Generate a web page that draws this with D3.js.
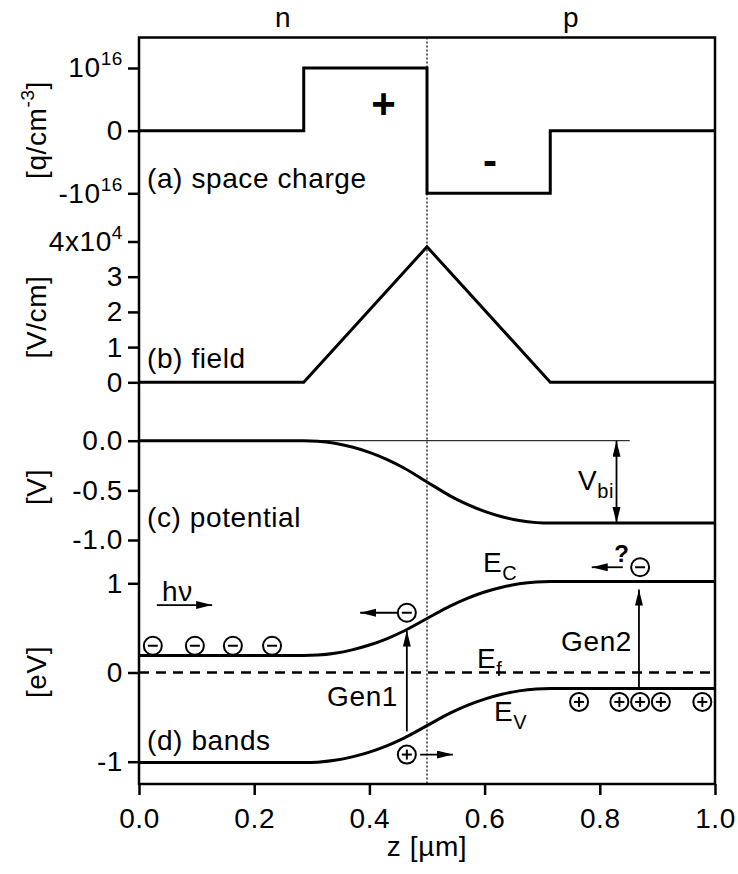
<!DOCTYPE html>
<html>
<head>
<meta charset="utf-8">
<script src="https://cdn.jsdelivr.net/npm/d3@7"></script>
<style>
  body { margin: 0; background: #fff; }
  text { font-family: "Liberation Sans", Arial, sans-serif; fill: #000; letter-spacing: 0.6px; }
</style>
</head>
<body>
<script>
// depth axis shared by all four panels [um]
var zTicks = [0, 0.2, 0.4, 0.6, 0.8, 1.0];

// (a) space charge, units of 1e16 q/cm^3
var chargeZ = [0, 0.286, 0.5, 0.714, 1.0];
var chargeRho = [0, 1, -1, 0, 0];
var chargeTicks = [-1, 0, 1];
var chargeTickLabels = [["-10", "16"], ["0", ""], ["10", "16"]];

// (b) field, units of 1e4 V/cm
var fieldZ = [0, 0.286, 0.5, 0.714, 1.0];
var fieldE = [0, 0, 3.85, 0, 0];
var fieldTicks = [0, 1, 2, 3, 4];
var fieldTickLabels = [["0", ""], ["1", ""], ["2", ""], ["3", ""], ["4x10", "4"]];

// (c) potential [V] and (d) bands [eV]
var bandZ = [0, 0.286, 0.31, 0.34, 0.37, 0.40, 0.43, 0.46, 0.5, 0.54, 0.57, 0.60, 0.63, 0.66, 0.69, 0.714, 1.0];
var potV = [0, 0, -0.005, -0.026, -0.064, -0.118, -0.188, -0.275, -0.415, -0.555, -0.642, -0.712, -0.766, -0.804, -0.825, -0.83, -0.83];
var bandEc = [0.19, 0.19, 0.195, 0.216, 0.254, 0.308, 0.378, 0.465, 0.605, 0.745, 0.832, 0.902, 0.956, 0.994, 1.015, 1.02, 1.02];
var bandEv = [-1.01, -1.01, -1.005, -0.984, -0.946, -0.892, -0.822, -0.735, -0.595, -0.455, -0.368, -0.298, -0.244, -0.206, -0.185, -0.18, -0.18];
var potTicks = [-1, -0.5, 0];
var potTickLabels = [["-1.0", ""], ["-0.5", ""], ["0.0", ""]];
var bandTicks = [-1, 0, 1];
var bandTickLabels = [["-1", ""], ["0", ""], ["1", ""]];

// carriers drawn on the band diagram
var electronZ = [0.024, 0.097, 0.163, 0.231, 0.465, 0.870];
var electronE = [0.30, 0.30, 0.30, 0.30, 0.67, 1.18];
var holeZ = [0.465, 0.764, 0.834, 0.870, 0.906, 0.978];
var holeE = [-0.92, -0.33, -0.33, -0.33, -0.33, -0.33];

var svg = d3.select("body").append("svg")
    .attr("width", 738)
    .attr("height", 874);

var x = d3.scaleLinear().domain([0, 1]).range([139, 715]);
var yA = d3.scaleLinear().domain([-1, 1]).range([193.3, 68]);
var yB = d3.scaleLinear().domain([0, 4]).range([382.3, 241.5]);
var yC = d3.scaleLinear().domain([-1, 0]).range([540, 440.7]);
var yD = d3.scaleLinear().domain([-1, 1]).range([761.7, 583.3]);

var frameTop = 37.5, frameBottom = 784;
var fs = 28;

// arrow head
svg.append("defs").append("marker")
    .attr("id", "head")
    .attr("markerUnits", "userSpaceOnUse")
    .attr("markerWidth", 18).attr("markerHeight", 10)
    .attr("refX", 16).attr("refY", 4)
    .attr("orient", "auto-start-reverse")
  .append("path")
    .attr("d", "M0,0 L16,4 L0,8 Z")
    .attr("fill", "#000");

// frame
svg.append("rect")
    .attr("x", x(0)).attr("y", frameTop)
    .attr("width", x(1) - x(0)).attr("height", frameBottom - frameTop)
    .attr("fill", "none").attr("stroke", "#000").attr("stroke-width", 2.5);

// junction
svg.append("line")
    .attr("x1", x(0.5)).attr("x2", x(0.5))
    .attr("y1", frameTop).attr("y2", frameBottom)
    .attr("stroke", "#000").attr("stroke-width", 1.2)
    .attr("stroke-dasharray", "2,2");

function yAxis(scale, ticks, labels) {
    var g = svg.append("g")
        .attr("transform", "translate(" + x(0) + ",0)")
        .call(d3.axisLeft(scale).tickValues(ticks).tickSize(11).tickPadding(5).tickFormat(""));
    g.select(".domain").remove();
    g.selectAll(".tick line").attr("stroke-width", 2.5);
    g.selectAll(".tick text").each(function(d, i) {
        var t = d3.select(this)
            .attr("font-size", fs).attr("font-family", null);
        t.append("tspan").text(labels[i][0]);
        if (labels[i][1]) {
            t.append("tspan").attr("dy", -12).attr("font-size", 19).text(labels[i][1]);
        }
    });
}
yAxis(yA, chargeTicks, chargeTickLabels);
yAxis(yB, fieldTicks, fieldTickLabels);
yAxis(yC, potTicks, potTickLabels);
yAxis(yD, bandTicks, bandTickLabels);

var xg = svg.append("g")
    .attr("transform", "translate(0," + frameBottom + ")")
    .call(d3.axisBottom(x).tickValues(zTicks).tickSize(11).tickPadding(13).tickFormat(d3.format(".1f")));
xg.select(".domain").remove();
xg.selectAll(".tick line").attr("stroke-width", 2.5);
xg.selectAll(".tick text").attr("font-size", fs).attr("font-family", null);

svg.append("text")
    .attr("x", x(0.5)).attr("y", 856)
    .attr("text-anchor", "middle").attr("font-size", fs)
    .text("z [\u00b5m]");

// axis titles
function yTitle(cy, parts) {
    var t = svg.append("text")
        .attr("transform", "translate(46," + cy + ") rotate(-90)")
        .attr("text-anchor", "middle").attr("font-size", fs);
    parts.forEach(function(p) {
        var s = t.append("tspan").text(p[0]);
        if (p[1]) s.attr("dy", p[1]);
        if (p[2]) s.attr("font-size", p[2]);
    });
}
yTitle(130, [["[q/cm"], ["-3", -12, 19], ["]", 12]]);
yTitle(317, [["[V/cm]"]]);
yTitle(487, [["[V]"]]);
yTitle(672, [["[eV]"]]);

svg.append("text").attr("x", x(0.25)).attr("y", 27)
    .attr("text-anchor", "middle").attr("font-size", fs).text("n");
svg.append("text").attr("x", x(0.75)).attr("y", 27)
    .attr("text-anchor", "middle").attr("font-size", fs).text("p");

// curves
function curve(zs, vs, scale, c) {
    return svg.append("path")
        .attr("d", d3.line()
            .x(function(d, i) { return x(zs[i]); })
            .y(function(d, i) { return scale(vs[i]); })
            .curve(c)(zs))
        .attr("fill", "none").attr("stroke", "#000").attr("stroke-width", 3);
}
curve(chargeZ, chargeRho, yA, d3.curveStepAfter);
curve(fieldZ, fieldE, yB, d3.curveLinear);

svg.append("line")
    .attr("x1", x(0)).attr("x2", x(0.852))
    .attr("y1", yC(0)).attr("y2", yC(0))
    .attr("stroke", "#000").attr("stroke-width", 1);
curve(bandZ, potV, yC, d3.curveMonotoneX);
curve(bandZ, bandEc, yD, d3.curveMonotoneX);
curve(bandZ, bandEv, yD, d3.curveMonotoneX);

svg.append("line")
    .attr("x1", x(0)).attr("x2", x(1))
    .attr("y1", yD(0)).attr("y2", yD(0))
    .attr("stroke", "#000").attr("stroke-width", 2.5)
    .attr("stroke-dasharray", "10,7");

// panel labels
function label(px, py, str, size, anchor, weight) {
    return svg.append("text")
        .attr("x", px).attr("y", py)
        .attr("font-size", size || fs)
        .attr("text-anchor", anchor || "start")
        .attr("font-weight", weight || null)
        .text(str);
}
label(147, 188, "(a) space charge");
label(147, 368, "(b) field");
label(147, 527, "(c) potential");
label(147, 750, "(d) bands");

label(x(0.425), yA(0.43) + 14, "+", 42, "middle", "bold");
label(x(0.61), yA(-0.51) + 12, "-", 42, "middle", "bold");

// arrows
function arrow(z1, v1, z2, v2, scale, both) {
    var l = svg.append("line")
        .attr("x1", x(z1)).attr("y1", scale(v1))
        .attr("x2", x(z2)).attr("y2", scale(v2))
        .attr("stroke", "#000").attr("stroke-width", 1.8)
        .attr("marker-end", "url(#head)");
    if (both) l.attr("marker-start", "url(#head)");
}
arrow(0.829, 0, 0.829, -0.83, yC, true);
arrow(0.031, 0.756, 0.127, 0.756, yD);
arrow(0.448, 0.67, 0.384, 0.67, yD);
arrow(0.488, -0.92, 0.545, -0.92, yD);
arrow(0.840, 1.18, 0.786, 1.18, yD);
arrow(0.465, -0.66, 0.465, 0.47, yD);
arrow(0.868, -0.18, 0.868, 0.93, yD);

// subscripted labels
function subLabel(px, py, main, sub) {
    var t = label(px, py, "");
    t.append("tspan").text(main);
    t.append("tspan").attr("dy", 8).attr("font-size", 20).text(sub);
}
subLabel(578, 490, "V", "bi");
subLabel(483, 572, "E", "C");
subLabel(477, 668, "E", "f");
subLabel(494, 721, "E", "V");

label(398, 706, "Gen1", fs, "end");
label(632, 651, "Gen2", fs, "end");
label(162, 601, "h\u03bd");
label(622, 562, "?", 24, "middle", "bold");

// carriers
function carrier(zs, es, sign) {
    var g = svg.selectAll(null)
        .data(zs)
        .enter().append("g")
        .attr("transform", function(d, i) {
            return "translate(" + x(d) + "," + yD(es[i]) + ")";
        });
    g.append("circle").attr("r", 9)
        .attr("fill", "#fff").attr("stroke", "#000").attr("stroke-width", 2);
    g.append("line").attr("x1", -5).attr("x2", 5)
        .attr("stroke", "#000").attr("stroke-width", 2);
    if (sign > 0) {
        g.append("line").attr("y1", -5).attr("y2", 5)
            .attr("stroke", "#000").attr("stroke-width", 2);
    }
}
carrier(electronZ, electronE, -1);
carrier(holeZ, holeE, 1);
</script>
</body>
</html>
